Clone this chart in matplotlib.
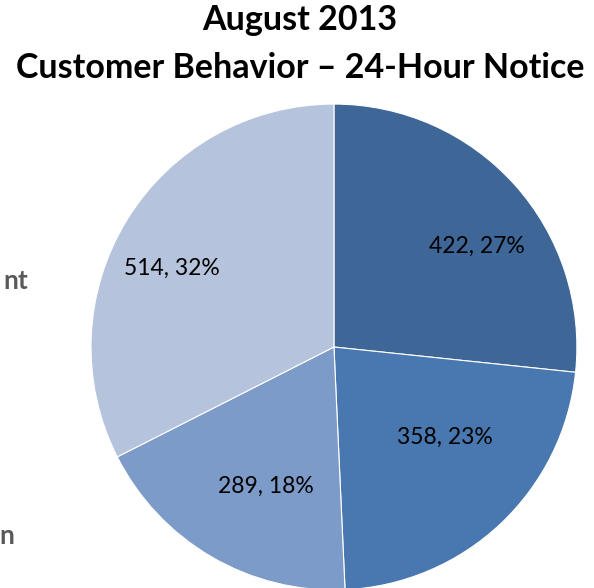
import matplotlib.pyplot as plt
import numpy as np

values = [422, 358, 289, 514]
colors = ["#3E6696", "#4878AF", "#7D9BC8", "#B6C3DD"]
title_lines = ["August 2013", "Customer Behavior \u2013 24-Hour Notice"]
# fragments of the legend that were cut off on the left
legend_bits = ["nt", "n"]

plt.rcParams['font.family'] = ['Lato', 'DejaVu Sans']

fig = plt.figure(figsize=(5.94, 5.88), dpi=100)
ax = fig.add_axes([0.1532, -0.0034, 0.818, 0.8265])

total = sum(values)


def fmt(v):
    return "%d, %d%%" % (v, round(100.0 * v / total))


ax.pie(values, colors=colors, startangle=90, counterclock=False,
       radius=1.0, wedgeprops=dict(edgecolor="white", linewidth=0.8))

# label spots (angle in degrees, fraction of radius), like Excel's best fit
angles = [35.0, -39.0, -116.0, 154.0]
dists = [0.72, 0.59, 0.64, 0.74]
for v, a, d in zip(values, angles, dists):
    x = d * np.cos(np.radians(a))
    y = d * np.sin(np.radians(a))
    ax.text(x, y, fmt(v), ha="center", va="center", fontsize=16.5, color="black")

ax.set_xlim(-1, 1)
ax.set_ylim(-1, 1)
ax.set_aspect("equal")
ax.axis("off")

fig.text(0.505, 0.966, title_lines[0], ha="center", va="center", fontsize=24.5, fontweight="bold")
fig.text(0.505, 0.885, title_lines[1], ha="center", va="center", fontsize=24.5, fontweight="bold")

fig.text(28 / 594, 1 - 281 / 588, legend_bits[0], ha="right", va="center", fontsize=19,
         fontweight="bold", color="#595959")
fig.text(14 / 594, 1 - 536 / 588, legend_bits[1], ha="right", va="center", fontsize=19,
         fontweight="bold", color="#595959")

fig.savefig("out.png", dpi=100)
